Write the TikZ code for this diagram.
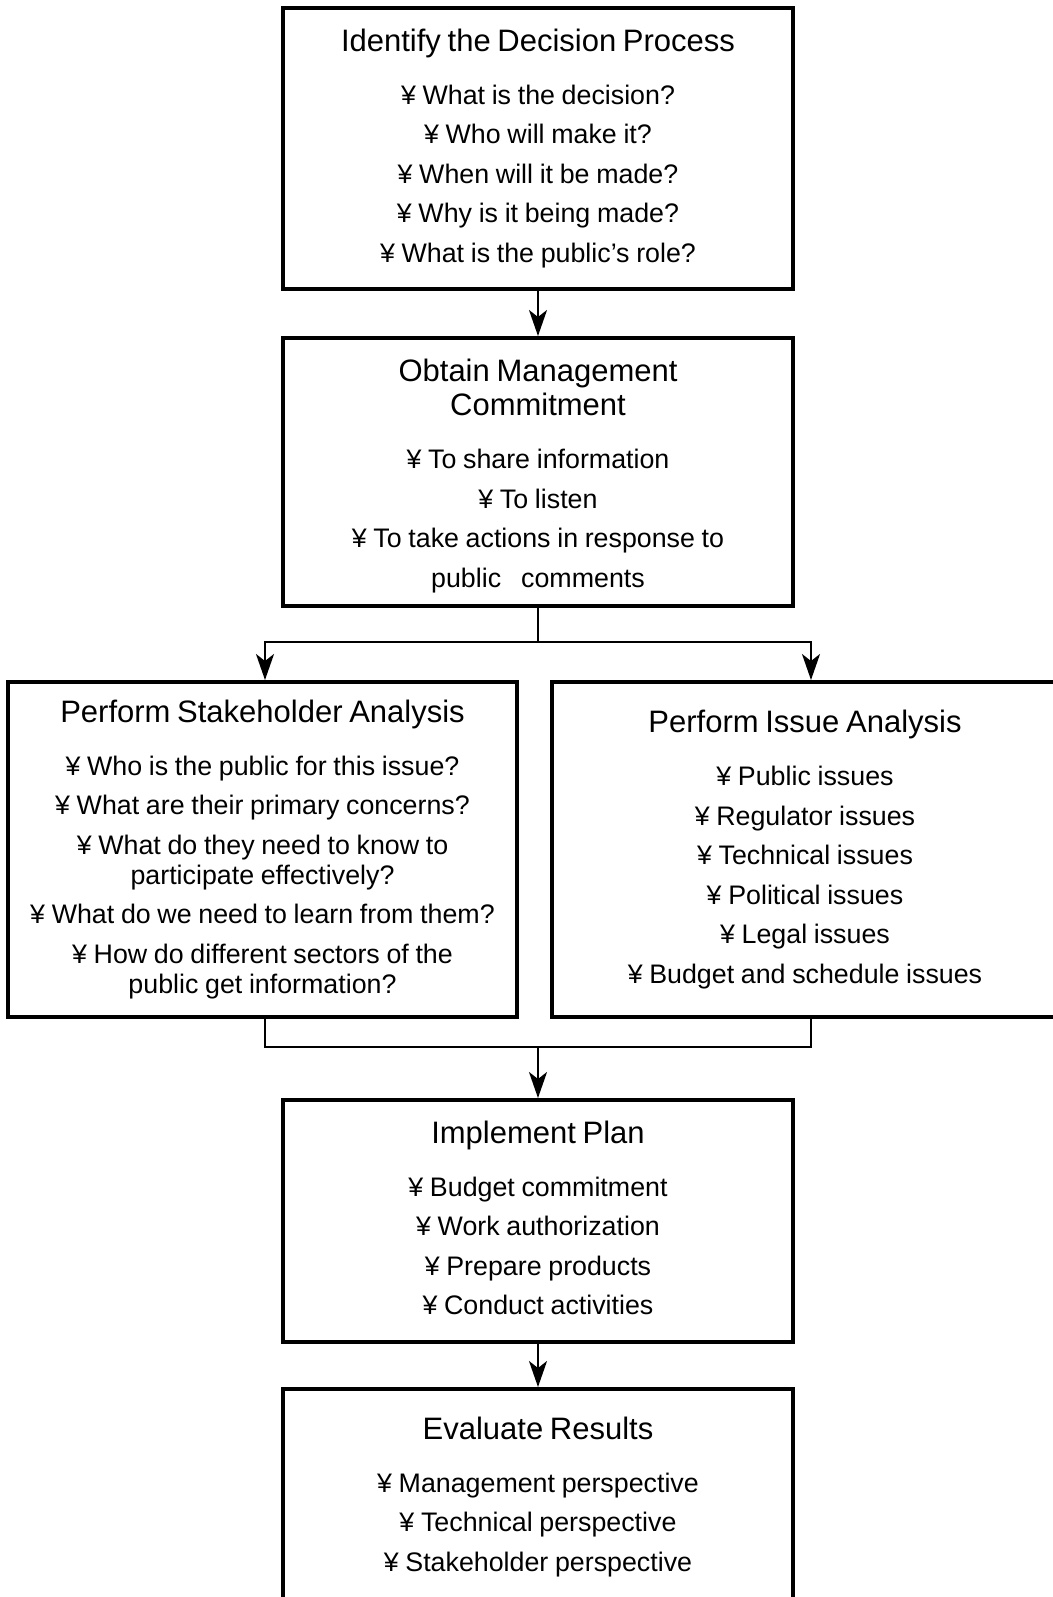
\documentclass[tikz,border=0pt]{standalone}
\usepackage{fontspec}
\setmainfont{Liberation Sans}
\usetikzlibrary{arrows.meta}

\newcommand\boxhead{\fontsize{15.5pt}{17pt}\selectfont}
\newcommand\boxitem{\fontsize{13.4pt}{15pt}\selectfont}

\tikzset{
  stepbox/.style={draw, line width=2pt, inner sep=0pt, align=center},
  flow/.style={line width=1pt, -{Stealth[length=13pt, width=9pt, inset=3.5pt]}},
  link/.style={line width=1pt}
}

\begin{document}
\begin{tikzpicture}[x=0.5pt, y=-0.5pt]
    \useasboundingbox (0,0) rectangle (1053,1597);

    \node[stepbox, text width=255pt, minimum height=140.5pt] (decide) at (538,148.5) {\boxhead Identify the Decision Process\\[11.5pt]
        \boxitem ¥ What is the decision?\\[4.75pt]
        ¥ Who will make it?\\[4.75pt]
        ¥ When will it be made?\\[4.75pt]
        ¥ Why is it being made?\\[4.75pt]
        ¥ What is the public's role?\par};

    \node[stepbox, text width=255pt, minimum height=134pt] (commit) at (538,472) {\boxhead\rule{0pt}{15.3pt}Obtain Management\\
        Commitment\\[11.5pt]
        \boxitem ¥ To share information\\[4.75pt]
        ¥ To listen\\[4.75pt]
        ¥ To take actions in response to\\[4.75pt]
        public\ \ \ comments\par};

    \node[stepbox, text width=254.5pt, minimum height=167.5pt] (stake) at (262.5,849.5) {\boxhead Perform Stakeholder Analysis\\[11.5pt]
        \boxitem ¥ Who is the public for this issue?\\[4.75pt]
        ¥ What are their primary concerns?\\[4.75pt]
        ¥ What do they need to know to\\
        participate effectively?\\[4.75pt]
        ¥ What do we need to learn from them?\\[4.75pt]
        ¥ How do different sectors of the\\
        public get information?\par};

    \node[stepbox, text width=253pt, minimum height=167.5pt] (issue) at (805,849.5) {\boxhead Perform Issue Analysis\\[11.5pt]
        \boxitem ¥ Public issues\\[4.75pt]
        ¥ Regulator issues\\[4.75pt]
        ¥ Technical issues\\[4.75pt]
        ¥ Political issues\\[4.75pt]
        ¥ Legal issues\\[4.75pt]
        ¥ Budget and schedule issues\par};

    \node[stepbox, text width=255pt, minimum height=121pt] (impl) at (538,1221) {\boxhead Implement Plan\\[11.5pt]
        \boxitem ¥ Budget commitment\\[4.75pt]
        ¥ Work authorization\\[4.75pt]
        ¥ Prepare products\\[4.75pt]
        ¥ Conduct activities\rule[-3pt]{0pt}{0pt}\par};

    \node[stepbox, text width=255pt, minimum height=108pt] (evalr) at (538,1497) {\boxhead Evaluate Results\\[11.5pt]
        \boxitem ¥ Management perspective\\[4.75pt]
        ¥ Technical perspective\\[4.75pt]
        ¥ Stakeholder perspective\par};

    \coordinate (forkL) at (265,642);
    \coordinate (forkR) at (811,642);
    \coordinate (joinL) at (265,1047);
    \coordinate (joinR) at (811,1047);

    \draw[flow] (decide.south) -- (commit.north);
    \draw[flow] (commit.south) |- (forkL) -- (forkL |- stake.north);
    \draw[flow] (commit.south |- forkL) -- (forkR) -- (forkR |- issue.north);
    \draw[link] (joinL |- stake.south) -- (joinL) -- (joinR) -- (joinR |- issue.south);
    \draw[flow] (impl.north |- joinL) -- (impl.north);
    \draw[flow] (impl.south) -- (evalr.north);
\end{tikzpicture}
\end{document}
